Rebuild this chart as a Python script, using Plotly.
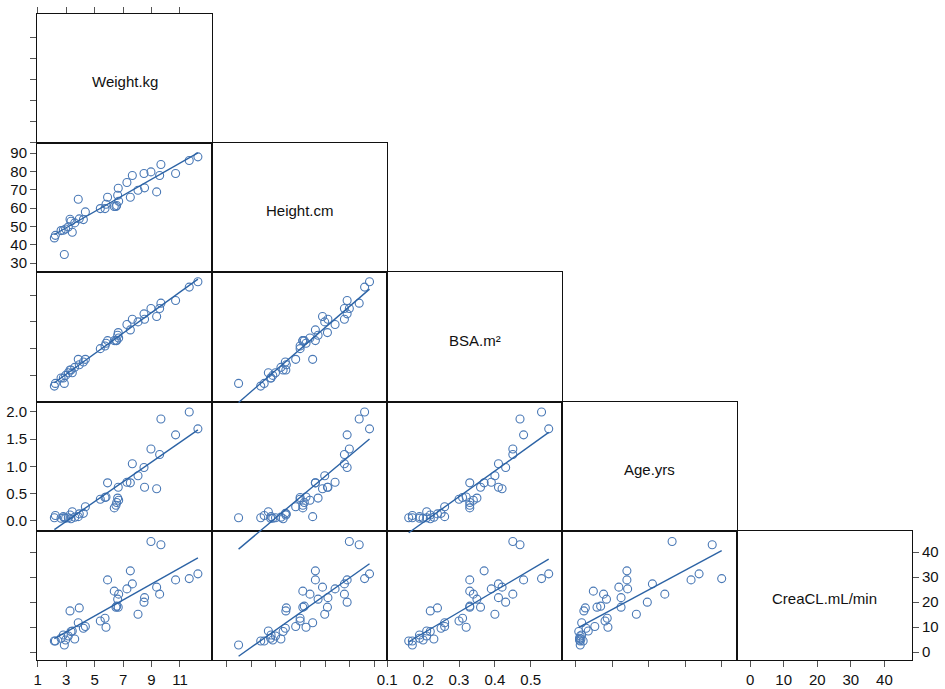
import numpy as np
import plotly.graph_objects as go

names = ["Weight.kg", "Height.cm", "BSA.m²", "Age.yrs", "CreaCL.mL/min"]

weight = [2.17, 2.24, 2.64, 2.80, 2.87, 2.96, 3.15, 3.27, 3.34, 3.43, 3.60, 3.85, 3.92, 4.21, 4.35,
          5.40, 5.73, 5.80, 5.91, 6.38, 6.50, 6.55, 6.62, 6.66, 6.69, 7.27, 7.51, 7.65, 8.05, 8.47,
          8.51, 8.96, 9.36, 9.57, 9.66, 10.69, 11.65, 12.26]
height = [43.8, 45.2, 47.8, 48.0, 34.8, 48.7, 49.8, 54.0, 52.9, 46.9, 52.0, 64.9, 54.2, 53.8, 58.0,
          59.8, 59.8, 62.2, 66.0, 60.9, 60.9, 61.5, 67.1, 70.9, 63.8, 74.0, 66.0, 77.8, 69.8, 78.9,
          71.1, 79.8, 68.9, 77.8, 83.8, 78.9, 86.0, 88.0]
bsa = [0.16, 0.17, 0.19, 0.19, 0.17, 0.20, 0.21, 0.22, 0.22, 0.21, 0.23, 0.26, 0.24, 0.25, 0.26,
       0.30, 0.31, 0.32, 0.33, 0.33, 0.33, 0.33, 0.35, 0.36, 0.34, 0.39, 0.37, 0.41, 0.40, 0.43,
       0.41, 0.45, 0.42, 0.45, 0.47, 0.48, 0.53, 0.55]
age = [0.06, 0.10, 0.05, 0.08, 0.06, 0.05, 0.06, 0.11, 0.04, 0.17, 0.07, 0.08, 0.13, 0.14, 0.26,
       0.40, 0.43, 0.44, 0.70, 0.24, 0.29, 0.34, 0.42, 0.62, 0.38, 0.71, 0.70, 1.05, 0.83, 0.98,
       0.62, 1.32, 0.59, 1.22, 1.87, 1.58, 2.00, 1.69]
creacl = [4.5, 4.5, 5.6, 6.9, 2.9, 4.9, 6.5, 16.5, 8.3, 8.5, 5.3, 11.8, 17.7, 9.6, 10.3,
          12.5, 13.6, 10.0, 28.9, 24.4, 18.0, 18.4, 21.2, 18.0, 23.2, 25.3, 32.5, 27.3, 15.2, 20.0,
          21.8, 44.2, 26.0, 23.2, 42.9, 28.9, 29.4, 31.3]

data = [weight, height, bsa, age, creacl]

tick_vals = [[1, 3, 5, 7, 9, 11],
             [30, 40, 50, 60, 70, 80, 90],
             [0.1, 0.2, 0.3, 0.4, 0.5],
             [0, 0.5, 1, 1.5, 2],
             [0, 10, 20, 30, 40]]
tick_text = [["1", "3", "5", "7", "9", "11"],
             ["30", "40", "50", "60", "70", "80", "90"],
             ["0.1", "0.2", "0.3", "0.4", "0.5"],
             ["0.0", "0.5", "1.0", "1.5", "2.0"],
             ["0", "10", "20", "30", "40"]]

range_x = [[0.95, 13.25], [24.0, 95.1], [0.0994, 0.587], [-0.19, 2.21], [-3.9, 48.2]]
range_y = [[0.95, 13.25], [25.0, 95.45], [0.102, 0.585], [-0.18, 2.19], [-3.1, 48.5]]

label_x = [True, False, True, False, True]   # bottom tick labels per column
label_y = [False, True, False, True, False]  # left tick labels per row

N = 5
W = 1.0 / N
MARK = "#4a79b6"
LINE = "#2c63a5"
FONT = "Liberation Sans, Arial, sans-serif"

fig = go.Figure()
layout = {}
annotations = []

def akey(prefix, k):
    return prefix + ("" if k == 1 else str(k))

base_axis = dict(showgrid=False, zeroline=False, showline=True, mirror=True,
                 linecolor="#111111", linewidth=1, ticklen=6, tickwidth=1,
                 tickcolor="#555555", tickfont=dict(family=FONT, size=15, color="#111111"),
                 fixedrange=True, automargin=False)

k = 0
panels = []
for r in range(N):
    for c in range(r + 1):
        k += 1
        xs = "x" + ("" if k == 1 else str(k))
        ys = "y" + ("" if k == 1 else str(k))
        xd = [c * W, (c + 1) * W]
        yd = [1 - (r + 1) * W, 1 - r * W]
        xa = dict(base_axis, domain=xd, range=range_x[c], anchor=ys)
        ya = dict(base_axis, domain=yd, range=range_y[r], anchor=xs)
        # x ticks
        if r == N - 1:
            xa.update(ticks="outside", tickvals=tick_vals[c], ticktext=tick_text[c],
                      showticklabels=label_x[c])
        elif r == 0 and c == 0:
            xa.update(side="top", ticks="outside", tickvals=tick_vals[c], showticklabels=False)
        else:
            xa.update(ticks="", showticklabels=False)
        # y ticks
        if c == 0:
            ya.update(ticks="outside", tickvals=tick_vals[r], ticktext=tick_text[r],
                      showticklabels=label_y[r])
        elif r == N - 1 and c == N - 1:
            ya.update(side="right", ticks="outside", tickvals=tick_vals[r],
                      ticktext=tick_text[r], showticklabels=True)
        else:
            ya.update(ticks="", showticklabels=False)
        layout[akey("xaxis", k)] = xa
        layout[akey("yaxis", k)] = ya
        if c == r:
            # empty trace so the diagonal frame is created
            fig.add_trace(go.Scatter(x=[None], y=[None], mode="markers", xaxis=xs, yaxis=ys,
                                     showlegend=False, hoverinfo="skip"))
            annotations.append(dict(text=names[r], x=0.5, y=0.5, xref=xs + " domain",
                                    yref=ys + " domain", showarrow=False, yshift=-3,
                                    font=dict(family=FONT, size=15, color="#111111")))
        else:
            fig.add_trace(go.Scatter(x=data[c], y=data[r], mode="markers", xaxis=xs, yaxis=ys,
                                     marker=dict(symbol="circle-open", size=8, color=MARK,
                                                 line=dict(width=1.1, color=MARK)),
                                     showlegend=False, hoverinfo="x+y"))
            panels.append((r, c, xd, yd))

# fit lines drawn on hidden axes with an extended lower domain so they can run past the frame
for (r, c, xd, yd) in panels:
    k += 1
    xs = "x" + str(k)
    ys = "y" + str(k)
    ext_lo = max(0.0, yd[0] - 0.1)
    span = range_y[r][1] - range_y[r][0]
    lo = range_y[r][0] - (yd[0] - ext_lo) * span / W
    layout[akey("xaxis", k)] = dict(domain=xd, range=range_x[c], visible=False,
                                    anchor=ys, fixedrange=True)
    layout[akey("yaxis", k)] = dict(domain=[ext_lo, yd[1]], range=[lo, range_y[r][1]],
                                    visible=False, anchor=xs, fixedrange=True)
    xv = np.array(data[c], dtype=float)
    yv = np.array(data[r], dtype=float)
    slope, icpt = np.polyfit(xv, yv, 1)
    xl = np.array([xv.min(), xv.max()])
    fig.add_trace(go.Scatter(x=xl, y=slope * xl + icpt, mode="lines", xaxis=xs, yaxis=ys,
                             line=dict(color=LINE, width=1.4), showlegend=False,
                             hoverinfo="skip"))

fig.update_layout(**layout)
fig.update_layout(annotations=annotations, width=945, height=689,
                  margin=dict(l=37, r=33, t=14, b=29, autoexpand=False),
                  paper_bgcolor="white", plot_bgcolor="rgba(0,0,0,0)",
                  font=dict(family=FONT, size=15, color="#111111"),
                  showlegend=False, hovermode=False)

fig.write_html("out.html", config={"displayModeBar": False},
               post_script="document.body.style.margin='0';document.body.style.overflow='hidden';")
